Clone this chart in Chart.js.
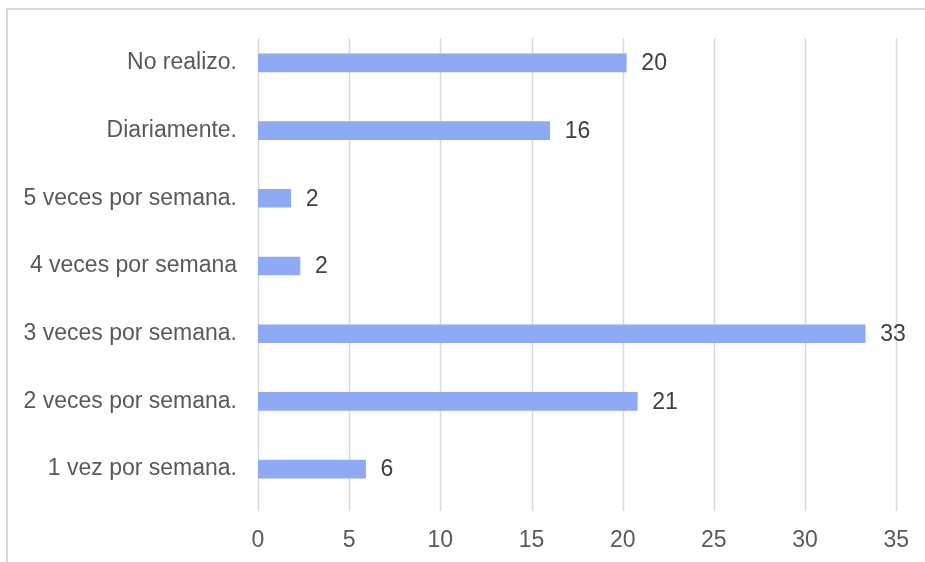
<!DOCTYPE html>
<html>
<head>
<meta charset="utf-8">
<script src="https://cdn.jsdelivr.net/npm/chart.js@4/dist/chart.umd.min.js"></script>
<style>
  body { margin: 0; background: #fff; }
  #wrap { position: relative; width: 925px; height: 562px; }
</style>
</head>
<body>
<div id="wrap"><canvas id="chart" width="925" height="562"></canvas></div>
<script>
const categories = ['No realizo.', 'Diariamente.', '5 veces por semana.', '4 veces por semana', '3 veces por semana.', '2 veces por semana.', '1 vez por semana.']
// bar lengths, labels show rounded values
const values = [20.2, 16, 1.8, 2.3, 33.3, 20.8, 5.9]
const xTicks = [0, 5, 10, 15, 20, 25, 30, 35]

const barColor = '#8eaaf5'
const gridColor = '#d9d9d9'
const fontFamily = '"Liberation Sans", Arial, sans-serif'

// light frame at top and left, like the cropped excel chart
const framePlugin = {
  id: 'frame',
  beforeDraw(chart) {
    const c = chart.ctx
    c.save()
    c.strokeStyle = '#d9d9d9'
    c.lineWidth = 2
    c.beginPath()
    c.moveTo(7, 562)
    c.lineTo(7, 9)
    c.lineTo(925, 9)
    c.stroke()
    c.restore()
  }
}

// vertical gridlines from the x scale
const gridPlugin = {
  id: 'vgrid',
  beforeDatasetsDraw(chart) {
    const c = chart.ctx
    const x = chart.scales.x
    const area = chart.chartArea
    c.save()
    c.strokeStyle = gridColor
    c.lineWidth = 1.5
    xTicks.forEach(t => {
      const px = Math.round(x.getPixelForValue(t)) + 0.5
      c.beginPath()
      c.moveTo(px, area.top + 9)
      c.lineTo(px, area.bottom + 8)
      c.stroke()
    })
    c.restore()
  }
}

// value labels at bar ends
const labelPlugin = {
  id: 'barLabels',
  afterDatasetsDraw(chart) {
    const c = chart.ctx
    const meta = chart.getDatasetMeta(0)
    c.save()
    c.font = '23px ' + fontFamily
    c.fillStyle = '#404040'
    c.textAlign = 'left'
    c.textBaseline = 'middle'
    meta.data.forEach((bar, i) => {
      c.fillText(String(Math.round(values[i])), bar.x + 15, bar.y + 1)
    })
    c.restore()
  }
}

const ctx = document.getElementById('chart').getContext('2d')
const chart = new Chart(ctx, {
  type: 'bar',
  data: {
    labels: categories,
    datasets: [{
      data: values,
      backgroundColor: barColor,
      barThickness: 18,
      borderWidth: 0
    }]
  },
  plugins: [framePlugin, gridPlugin, labelPlugin],
  options: {
    indexAxis: 'y',
    responsive: false,
    animation: false,
    layout: { padding: { top: 29, right: 26, bottom: 0, left: 0 } },
    plugins: {
      legend: { display: false },
      tooltip: { enabled: false }
    },
    scales: {
      x: {
        min: 0,
        max: 35,
        afterBuildTicks: (scale) => { scale.ticks = xTicks.map(v => ({ value: v })) },
        afterFit: (scale) => { scale.height = 59 },
        grid: { display: false },
        border: { display: false },
        ticks: {
          color: '#595959',
          padding: 16,
          font: { family: fontFamily, size: 23 }
        }
      },
      y: {
        afterFit: (scale) => { scale.width = 258 },
        grid: { display: false },
        border: { display: false },
        ticks: {
          color: '#595959',
          padding: 13,
          font: { family: fontFamily, size: 23 }
        }
      }
    }
  }
})
</script>
</body>
</html>
